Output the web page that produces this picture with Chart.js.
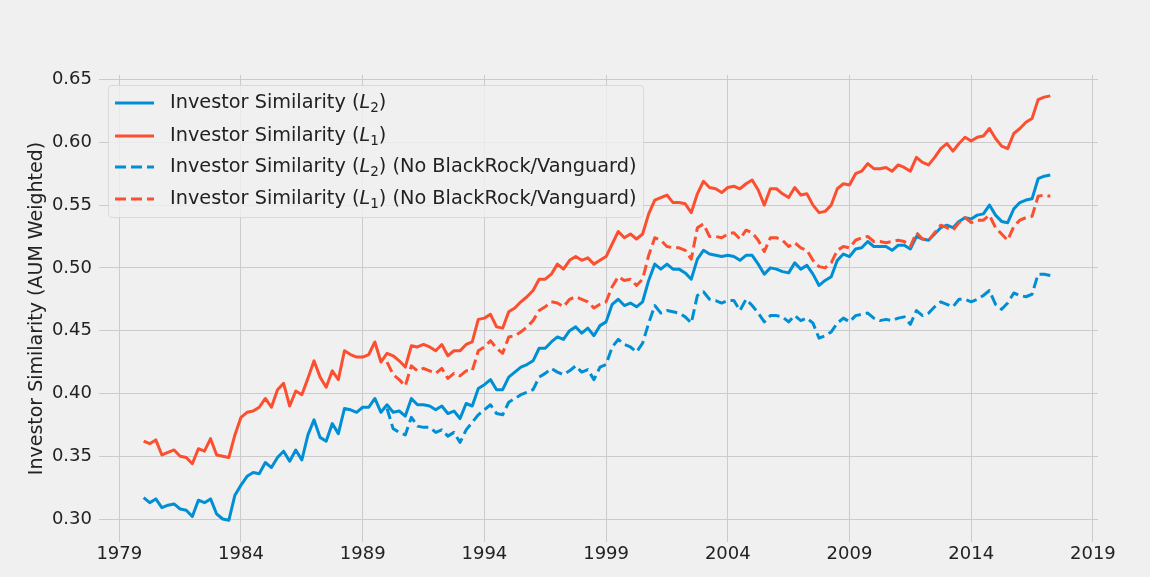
<!DOCTYPE html>
<html>
<head>
<meta charset="utf-8">
<script src="https://cdn.jsdelivr.net/npm/chart.js@4.4.1/dist/chart.umd.min.js"></script>
<style>
  html, body { margin: 0; padding: 0; background: #f0f0f0; }
  #wrap { position: relative; width: 1150px; height: 577px; background: #f0f0f0; }
  #legend {
    position: absolute; left: 108px; top: 85px; width: 536px; height: 133px;
    box-sizing: border-box; border: 1px solid #dadada; border-radius: 4px;
    background: rgba(240,240,240,0.8);
    font-family: 'DejaVu Sans', sans-serif; font-size: 19.3px; color: #222;
  }
  .row { position: absolute; left: 0; height: 24px; line-height: 24px; white-space: nowrap; }
  .row svg { position: absolute; left: 6px; top: 10px; }
  .row span.t { position: absolute; left: 61px; top: 0; }
  .row sub { font-size: 0.7em; line-height: 0; vertical-align: -0.28em; }
</style>
</head>
<body>
<div id="wrap">
  <canvas id="c" width="1150" height="577"></canvas>
  <div id="legend"></div>
</div>
<script>
// ---- data (quarterly, first point 1980 Q1) ----
const firstYear = 1980;
const dashedFirstYear = 1990;

const l2Values = [
  0.317,0.313,0.316,0.309,0.311,0.312,0.308,0.307,0.302,0.315,
  0.313,0.316,0.304,0.300,0.299,0.319,0.327,0.334,0.337,0.336,
  0.345,0.341,0.349,0.354,0.346,0.355,0.347,0.367,0.379,0.365,
  0.362,0.376,0.368,0.388,0.387,0.385,0.389,0.389,0.396,0.385,
  0.391,0.385,0.386,0.382,0.396,0.391,0.391,0.390,0.387,0.390,
  0.384,0.386,0.380,0.392,0.390,0.404,0.407,0.411,0.403,0.403,
  0.413,0.417,0.421,0.423,0.426,0.436,0.436,0.441,0.445,0.443,
  0.450,0.453,0.448,0.452,0.446,0.454,0.457,0.471,0.475,0.470,
  0.472,0.469,0.473,0.490,0.503,0.499,0.503,0.499,0.499,0.496,
  0.491,0.507,0.514,0.511,0.510,0.509,0.510,0.509,0.506,0.510,
  0.510,0.503,0.495,0.500,0.499,0.497,0.496,0.504,0.499,0.502,
  0.495,0.486,0.490,0.493,0.506,0.511,0.509,0.515,0.516,0.521,
  0.517,0.517,0.517,0.514,0.518,0.518,0.515,0.525,0.523,0.522,
  0.527,0.532,0.534,0.532,0.537,0.540,0.539,0.542,0.543,0.550,
  0.542,0.537,0.536,0.547,0.552,0.554,0.555,0.571,0.573,0.574
];

const l1Values = [
  0.362,0.360,0.363,0.351,0.353,0.355,0.350,0.349,0.344,0.356,
  0.354,0.364,0.351,0.350,0.349,0.367,0.381,0.385,0.386,0.389,
  0.396,0.389,0.403,0.408,0.390,0.402,0.399,0.412,0.426,0.413,
  0.405,0.418,0.411,0.434,0.431,0.429,0.429,0.431,0.441,0.425,
  0.432,0.430,0.426,0.421,0.438,0.437,0.439,0.437,0.434,0.439,
  0.430,0.434,0.434,0.439,0.441,0.459,0.460,0.463,0.453,0.452,
  0.465,0.468,0.473,0.477,0.482,0.491,0.491,0.495,0.503,0.499,
  0.506,0.509,0.506,0.508,0.503,0.506,0.509,0.519,0.529,0.524,
  0.527,0.523,0.527,0.543,0.554,0.556,0.558,0.552,0.552,0.551,
  0.544,0.559,0.569,0.564,0.563,0.560,0.564,0.565,0.563,0.567,
  0.570,0.562,0.550,0.563,0.563,0.559,0.556,0.564,0.558,0.559,
  0.550,0.544,0.545,0.550,0.563,0.567,0.566,0.575,0.577,0.583,
  0.579,0.579,0.580,0.577,0.582,0.580,0.577,0.588,0.584,0.582,
  0.588,0.595,0.599,0.593,0.599,0.604,0.601,0.604,0.605,0.611,
  0.603,0.597,0.595,0.607,0.611,0.616,0.619,0.634,0.636,0.637
];

const l2NoBlackRockVanguard = [
  0.388,0.372,0.369,0.367,0.381,0.374,0.373,0.373,0.369,0.371,
  0.366,0.369,0.361,0.371,0.377,0.383,0.387,0.391,0.384,0.383,
  0.393,0.396,0.399,0.401,0.403,0.413,0.416,0.420,0.417,0.415,
  0.418,0.422,0.417,0.419,0.411,0.421,0.423,0.437,0.443,0.439,
  0.437,0.433,0.440,0.456,0.470,0.464,0.466,0.465,0.464,0.461,
  0.456,0.478,0.481,0.475,0.474,0.472,0.474,0.474,0.466,0.475,
  0.470,0.464,0.457,0.462,0.462,0.461,0.457,0.462,0.458,0.460,
  0.456,0.444,0.446,0.449,0.456,0.460,0.457,0.462,0.463,0.464,
  0.460,0.458,0.459,0.458,0.460,0.461,0.455,0.466,0.462,0.464,
  0.469,0.473,0.471,0.469,0.475,0.475,0.473,0.475,0.478,0.482,
  0.471,0.467,0.472,0.480,0.478,0.477,0.479,0.495,0.495,0.494
];

const l1NoBlackRockVanguard = [
  0.425,0.415,0.411,0.406,0.422,0.418,0.420,0.418,0.416,0.420,
  0.412,0.416,0.414,0.418,0.418,0.434,0.437,0.442,0.436,0.432,
  0.445,0.446,0.449,0.453,0.458,0.466,0.469,0.473,0.472,0.469,
  0.475,0.477,0.475,0.473,0.468,0.471,0.473,0.485,0.493,0.490,
  0.491,0.486,0.491,0.510,0.524,0.522,0.517,0.516,0.516,0.514,
  0.507,0.532,0.535,0.525,0.525,0.524,0.527,0.528,0.523,0.530,
  0.528,0.522,0.513,0.524,0.524,0.522,0.517,0.520,0.516,0.514,
  0.506,0.501,0.500,0.504,0.514,0.517,0.516,0.522,0.524,0.525,
  0.521,0.521,0.520,0.521,0.522,0.521,0.517,0.528,0.523,0.522,
  0.528,0.534,0.532,0.530,0.536,0.540,0.536,0.538,0.538,0.542,
  0.532,0.527,0.522,0.533,0.538,0.540,0.541,0.557,0.558,0.557
];

const xTickYears = [1979, 1984, 1989, 1994, 1999, 2004, 2009, 2014, 2019];
const yTickValues = [0.30, 0.35, 0.40, 0.45, 0.50, 0.55, 0.60, 0.65];
const seriesSubscripts = ['2', '1', '2', '1'];
const seriesSuffixes = ['', '', ' (No BlackRock/Vanguard)', ' (No BlackRock/Vanguard)'];
const yAxisTitle = 'Investor Similarity (AUM Weighted)';

const BLUE = '#008fd5', RED = '#fc4f30';

function toPoints(values, startYear) {
  return values.map((v, i) => ({ x: startYear + i / 4, y: v }));
}

const datasets = [
  { label: 'Investor Similarity (L\u2082)', data: toPoints(l2Values, firstYear), borderColor: BLUE, borderDash: [], order: 4 },
  { label: 'Investor Similarity (L\u2081)', data: toPoints(l1Values, firstYear), borderColor: RED, borderDash: [], order: 3 },
  { label: 'Investor Similarity (L\u2082) (No BlackRock/Vanguard)', data: toPoints(l2NoBlackRockVanguard, dashedFirstYear), borderColor: BLUE, borderDash: [11, 5], order: 2 },
  { label: 'Investor Similarity (L\u2081) (No BlackRock/Vanguard)', data: toPoints(l1NoBlackRockVanguard, dashedFirstYear), borderColor: RED, borderDash: [11, 5], order: 1 }
].map(d => Object.assign(d, {
  borderWidth: 3, pointRadius: 0, tension: 0, fill: false,
  borderJoinStyle: 'round', borderCapStyle: 'butt'
}));

const FONT = "'DejaVu Sans', sans-serif";
const TXT = '#222';
const GRID = '#cbcbcb';

const chart = new Chart(document.getElementById('c'), {
  type: 'line',
  data: { datasets },
  options: {
    responsive: false,
    animation: false,
    devicePixelRatio: 1,
    layout: { padding: { top: 75, right: 52, left: 0, bottom: 0 } },
    plugins: { legend: { display: false }, tooltip: { enabled: false } },
    scales: {
      x: {
        type: 'linear',
        min: 1978.166, max: 2019.21,
        afterBuildTicks: (axis) => { axis.ticks = xTickYears.map(v => ({ value: v })); },
        afterFit: (scale) => { scale.height = 35; },
        ticks: {
          autoSkip: false, maxRotation: 0, padding: 2,
          color: TXT, font: { family: FONT, size: 18 },
          callback: (v) => String(v)
        },
        grid: { color: GRID, lineWidth: 1, drawTicks: false },
        border: { display: false }
      },
      y: {
        type: 'linear',
        min: 0.2817, max: 0.6536,
        afterBuildTicks: (axis) => { axis.ticks = yTickValues.map(v => ({ value: v })); },
        afterFit: (scale) => { scale.width = 99; },
        ticks: {
          autoSkip: false, padding: 7,
          color: TXT, font: { family: FONT, size: 18 },
          callback: (v) => Number(v).toFixed(2)
        },
        grid: { color: GRID, lineWidth: 1, drawTicks: false },
        border: { display: false },
        title: {
          display: true, text: yAxisTitle, color: TXT,
          font: { family: FONT, size: 19 }, padding: { top: 26, bottom: 0 }
        }
      }
    }
  }
});

// HTML legend built from the chart's datasets
const legend = document.getElementById('legend');
const rowTops = [5.7, 38, 69.7, 101.3];
chart.data.datasets.forEach((ds, i) => {
  const row = document.createElement('div');
  row.className = 'row';
  row.style.top = (rowTops[i] - 1.5) + 'px';
  const dash = ds.borderDash.length ? `stroke-dasharray="${ds.borderDash.join(' ')}"` : '';
  row.innerHTML =
    `<svg width="40" height="6"><line x1="0" y1="3" x2="39" y2="3" stroke="${ds.borderColor}" stroke-width="3" ${dash}/></svg>` +
    `<span class="t">Investor Similarity (<i>L</i><sub>${seriesSubscripts[i]}</sub>)${seriesSuffixes[i]}</span>`;
  legend.appendChild(row);
});
</script>
</body>
</html>
